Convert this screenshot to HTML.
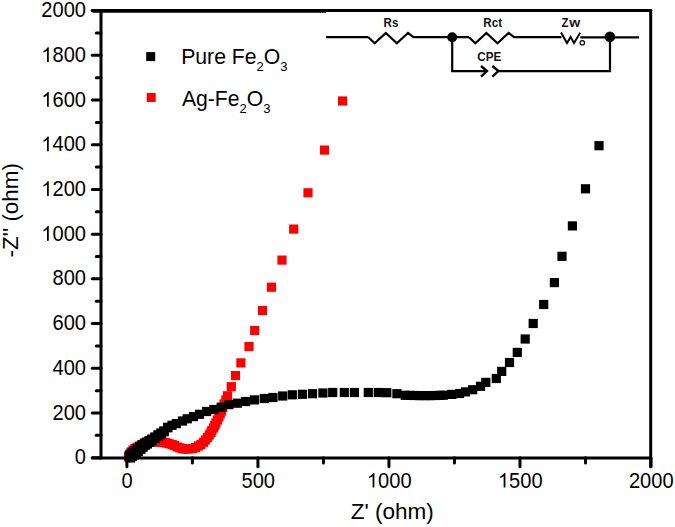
<!DOCTYPE html>
<html><head><meta charset="utf-8"><style>
html,body{margin:0;padding:0;background:#fff;}
svg{display:block;}
text{font-family:"Liberation Sans",sans-serif;}
</style></head><body>
<svg width="675" height="527" viewBox="0 0 675 527">
<rect width="675" height="527" fill="#fff"/>
<g fill="#ff0000"><rect x="123.9" y="452.4" width="9.2" height="9.2"/><rect x="124.9" y="449.9" width="9.2" height="9.2"/><rect x="126.4" y="447.4" width="9.2" height="9.2"/><rect x="128.4" y="445.4" width="9.2" height="9.2"/><rect x="130.4" y="443.9" width="9.2" height="9.2"/><rect x="132.4" y="442.6" width="9.2" height="9.2"/><rect x="134.9" y="441.4" width="9.2" height="9.2"/><rect x="137.4" y="440.2" width="9.2" height="9.2"/><rect x="139.9" y="439.2" width="9.2" height="9.2"/><rect x="142.4" y="438.4" width="9.2" height="9.2"/><rect x="144.9" y="437.8" width="9.2" height="9.2"/><rect x="147.4" y="437.4" width="9.2" height="9.2"/><rect x="150.4" y="437.2" width="9.2" height="9.2"/><rect x="153.4" y="437.3" width="9.2" height="9.2"/><rect x="155.9" y="437.4" width="9.2" height="9.2"/><rect x="158.1" y="437.5" width="9.2" height="9.2"/><rect x="160.4" y="438.0" width="9.2" height="9.2"/><rect x="162.1" y="438.4" width="9.2" height="9.2"/><rect x="164.4" y="439.1" width="9.2" height="9.2"/><rect x="167.4" y="439.9" width="9.2" height="9.2"/><rect x="169.9" y="440.8" width="9.2" height="9.2"/><rect x="172.7" y="442.4" width="9.2" height="9.2"/><rect x="175.4" y="443.3" width="9.2" height="9.2"/><rect x="178.1" y="444.2" width="9.2" height="9.2"/><rect x="180.9" y="444.4" width="9.2" height="9.2"/><rect x="183.9" y="444.4" width="9.2" height="9.2"/><rect x="187.9" y="444.0" width="9.2" height="9.2"/><rect x="190.9" y="443.0" width="9.2" height="9.2"/><rect x="193.9" y="441.4" width="9.2" height="9.2"/><rect x="196.4" y="439.9" width="9.2" height="9.2"/><rect x="198.9" y="437.7" width="9.2" height="9.2"/><rect x="200.9" y="435.4" width="9.2" height="9.2"/><rect x="202.9" y="432.9" width="9.2" height="9.2"/><rect x="204.7" y="430.4" width="9.2" height="9.2"/><rect x="206.4" y="427.9" width="9.2" height="9.2"/><rect x="207.2" y="426.1" width="9.2" height="9.2"/><rect x="208.9" y="423.4" width="9.2" height="9.2"/><rect x="210.2" y="420.9" width="9.2" height="9.2"/><rect x="211.3" y="418.4" width="9.2" height="9.2"/><rect x="212.8" y="415.4" width="9.2" height="9.2"/><rect x="214.3" y="412.4" width="9.2" height="9.2"/><rect x="215.6" y="409.4" width="9.2" height="9.2"/><rect x="216.9" y="406.4" width="9.2" height="9.2"/><rect x="218.2" y="402.9" width="9.2" height="9.2"/><rect x="219.4" y="399.4" width="9.2" height="9.2"/><rect x="221.2" y="395.4" width="9.2" height="9.2"/><rect x="222.9" y="391.2" width="9.2" height="9.2"/><rect x="226.7" y="382.1" width="9.2" height="9.2"/><rect x="230.9" y="371.0" width="9.2" height="9.2"/><rect x="236.3" y="358.3" width="9.2" height="9.2"/><rect x="244.4" y="341.9" width="9.2" height="9.2"/><rect x="250.1" y="325.9" width="9.2" height="9.2"/><rect x="257.9" y="305.9" width="9.2" height="9.2"/><rect x="266.9" y="282.6" width="9.2" height="9.2"/><rect x="277.4" y="255.5" width="9.2" height="9.2"/><rect x="289.1" y="224.5" width="9.2" height="9.2"/><rect x="303.4" y="188.2" width="9.2" height="9.2"/><rect x="319.9" y="145.5" width="9.2" height="9.2"/><rect x="338.0" y="96.4" width="9.2" height="9.2"/></g>
<g fill="#000"><rect x="125.2" y="452.1" width="9.2" height="9.2"/><rect x="127.2" y="450.6" width="9.2" height="9.2"/><rect x="129.2" y="448.9" width="9.2" height="9.2"/><rect x="131.2" y="447.3" width="9.2" height="9.2"/><rect x="133.2" y="445.6" width="9.2" height="9.2"/><rect x="135.7" y="443.4" width="9.2" height="9.2"/><rect x="137.9" y="441.3" width="9.2" height="9.2"/><rect x="140.2" y="439.3" width="9.2" height="9.2"/><rect x="142.2" y="438.1" width="9.2" height="9.2"/><rect x="144.7" y="436.4" width="9.2" height="9.2"/><rect x="147.2" y="434.7" width="9.2" height="9.2"/><rect x="150.2" y="432.4" width="9.2" height="9.2"/><rect x="153.3" y="430.2" width="9.2" height="9.2"/><rect x="156.2" y="428.4" width="9.2" height="9.2"/><rect x="159.2" y="426.3" width="9.2" height="9.2"/><rect x="163.0" y="422.7" width="9.2" height="9.2"/><rect x="167.4" y="420.7" width="9.2" height="9.2"/><rect x="171.7" y="419.0" width="9.2" height="9.2"/><rect x="177.9" y="416.4" width="9.2" height="9.2"/><rect x="182.7" y="414.2" width="9.2" height="9.2"/><rect x="188.9" y="412.0" width="9.2" height="9.2"/><rect x="194.9" y="409.7" width="9.2" height="9.2"/><rect x="202.1" y="406.9" width="9.2" height="9.2"/><rect x="209.2" y="404.9" width="9.2" height="9.2"/><rect x="216.6" y="402.6" width="9.2" height="9.2"/><rect x="224.4" y="400.0" width="9.2" height="9.2"/><rect x="232.7" y="398.6" width="9.2" height="9.2"/><rect x="241.0" y="396.9" width="9.2" height="9.2"/><rect x="249.9" y="395.3" width="9.2" height="9.2"/><rect x="259.7" y="393.9" width="9.2" height="9.2"/><rect x="268.4" y="392.9" width="9.2" height="9.2"/><rect x="278.1" y="391.4" width="9.2" height="9.2"/><rect x="287.7" y="390.2" width="9.2" height="9.2"/><rect x="297.8" y="389.7" width="9.2" height="9.2"/><rect x="307.9" y="389.1" width="9.2" height="9.2"/><rect x="318.3" y="388.4" width="9.2" height="9.2"/><rect x="328.1" y="387.9" width="9.2" height="9.2"/><rect x="339.7" y="387.9" width="9.2" height="9.2"/><rect x="349.8" y="387.9" width="9.2" height="9.2"/><rect x="363.7" y="387.9" width="9.2" height="9.2"/><rect x="373.7" y="387.9" width="9.2" height="9.2"/><rect x="382.2" y="388.1" width="9.2" height="9.2"/><rect x="392.3" y="389.1" width="9.2" height="9.2"/><rect x="400.7" y="390.7" width="9.2" height="9.2"/><rect x="405.4" y="390.8" width="9.2" height="9.2"/><rect x="410.4" y="390.9" width="9.2" height="9.2"/><rect x="415.4" y="391.0" width="9.2" height="9.2"/><rect x="420.4" y="391.0" width="9.2" height="9.2"/><rect x="425.4" y="391.0" width="9.2" height="9.2"/><rect x="430.4" y="390.9" width="9.2" height="9.2"/><rect x="435.4" y="390.8" width="9.2" height="9.2"/><rect x="438.9" y="390.6" width="9.2" height="9.2"/><rect x="447.2" y="389.8" width="9.2" height="9.2"/><rect x="454.9" y="388.9" width="9.2" height="9.2"/><rect x="460.9" y="387.3" width="9.2" height="9.2"/><rect x="468.1" y="385.1" width="9.2" height="9.2"/><rect x="475.9" y="381.7" width="9.2" height="9.2"/><rect x="481.2" y="377.8" width="9.2" height="9.2"/><rect x="491.7" y="373.9" width="9.2" height="9.2"/><rect x="497.1" y="366.8" width="9.2" height="9.2"/><rect x="504.9" y="357.9" width="9.2" height="9.2"/><rect x="512.7" y="347.8" width="9.2" height="9.2"/><rect x="520.6" y="334.4" width="9.2" height="9.2"/><rect x="528.6" y="318.9" width="9.2" height="9.2"/><rect x="539.1" y="299.9" width="9.2" height="9.2"/><rect x="549.8" y="278.0" width="9.2" height="9.2"/><rect x="557.4" y="251.7" width="9.2" height="9.2"/><rect x="567.8" y="221.3" width="9.2" height="9.2"/><rect x="580.9" y="184.2" width="9.2" height="9.2"/><rect x="594.4" y="141.1" width="9.2" height="9.2"/><rect x="125.8" y="453.4" width="9.2" height="9.2"/><rect x="124.6" y="450.8" width="9.2" height="9.2"/><rect x="127.8" y="451.9" width="9.2" height="9.2"/><rect x="126.6" y="449.3" width="9.2" height="9.2"/><rect x="129.8" y="450.2" width="9.2" height="9.2"/><rect x="128.6" y="447.6" width="9.2" height="9.2"/><rect x="131.8" y="448.6" width="9.2" height="9.2"/><rect x="130.6" y="446.0" width="9.2" height="9.2"/><rect x="133.8" y="446.9" width="9.2" height="9.2"/><rect x="132.6" y="444.3" width="9.2" height="9.2"/><rect x="136.3" y="444.7" width="9.2" height="9.2"/><rect x="135.1" y="442.1" width="9.2" height="9.2"/><rect x="138.5" y="442.6" width="9.2" height="9.2"/><rect x="137.4" y="440.3" width="9.2" height="9.2"/><rect x="140.8" y="440.6" width="9.2" height="9.2"/><rect x="139.8" y="438.5" width="9.2" height="9.2"/><rect x="142.8" y="439.4" width="9.2" height="9.2"/><rect x="141.9" y="437.5" width="9.2" height="9.2"/><rect x="145.3" y="437.7" width="9.2" height="9.2"/><rect x="144.6" y="436.1" width="9.2" height="9.2"/><rect x="147.8" y="436.0" width="9.2" height="9.2"/><rect x="147.2" y="434.7" width="9.2" height="9.2"/><rect x="150.8" y="433.7" width="9.2" height="9.2"/><rect x="153.9" y="431.5" width="9.2" height="9.2"/><rect x="156.8" y="429.6" width="9.2" height="9.2"/><rect x="159.6" y="427.2" width="9.2" height="9.2"/><rect x="163.2" y="423.2" width="9.2" height="9.2"/></g>
<g stroke="#000" stroke-width="3" fill="none" stroke-linecap="round">
 <line x1="101" y1="10.6" x2="101" y2="457.9"/>
 <line x1="92.3" y1="457.9" x2="650.7" y2="457.9"/>
 <line x1="650.7" y1="10.6" x2="650.7" y2="466.8"/>
 <line x1="92.3" y1="10.6" x2="650.7" y2="10.6"/>
 <line x1="92.3" y1="11.2" x2="326" y2="11.2" stroke-linecap="butt"/>
 <line x1="92.3" y1="457.70" x2="101" y2="457.70"/><line x1="96.3" y1="435.34" x2="101" y2="435.34"/><line x1="92.3" y1="412.99" x2="101" y2="412.99"/><line x1="96.3" y1="390.63" x2="101" y2="390.63"/><line x1="92.3" y1="368.28" x2="101" y2="368.28"/><line x1="96.3" y1="345.93" x2="101" y2="345.93"/><line x1="92.3" y1="323.57" x2="101" y2="323.57"/><line x1="96.3" y1="301.22" x2="101" y2="301.22"/><line x1="92.3" y1="278.86" x2="101" y2="278.86"/><line x1="96.3" y1="256.50" x2="101" y2="256.50"/><line x1="92.3" y1="234.15" x2="101" y2="234.15"/><line x1="96.3" y1="211.80" x2="101" y2="211.80"/><line x1="92.3" y1="189.44" x2="101" y2="189.44"/><line x1="96.3" y1="167.09" x2="101" y2="167.09"/><line x1="92.3" y1="144.73" x2="101" y2="144.73"/><line x1="96.3" y1="122.38" x2="101" y2="122.38"/><line x1="92.3" y1="100.02" x2="101" y2="100.02"/><line x1="96.3" y1="77.67" x2="101" y2="77.67"/><line x1="92.3" y1="55.31" x2="101" y2="55.31"/><line x1="96.3" y1="32.96" x2="101" y2="32.96"/><line x1="92.3" y1="10.60" x2="101" y2="10.60"/><line x1="126.90" y1="457.7" x2="126.90" y2="466.8"/><line x1="192.41" y1="457.7" x2="192.41" y2="463"/><line x1="257.93" y1="457.7" x2="257.93" y2="466.8"/><line x1="323.44" y1="457.7" x2="323.44" y2="463"/><line x1="388.95" y1="457.7" x2="388.95" y2="466.8"/><line x1="454.46" y1="457.7" x2="454.46" y2="463"/><line x1="519.98" y1="457.7" x2="519.98" y2="466.8"/><line x1="585.49" y1="457.7" x2="585.49" y2="463"/><line x1="651.00" y1="457.7" x2="651.00" y2="466.8"/>
</g>

<g stroke="#000" stroke-width="2.2" fill="none" stroke-linejoin="miter">
 <path d="M326,37.2 H368.4 M368.4,37.2 L374.7,43.2 L385.8,32.9 L396.9,43.2 L408.0,32.9 L413.4,37.2 H469 M469.0,37.2 L475.3,43.2 L486.4,32.9 L497.5,43.2 L508.6,32.9 L514.0,37.2 H561.5"/>
 <path d="M561,32.5 L567,43 L570.6,37 L574,43 L580.2,32.7" stroke-width="1.9"/>
 <path d="M580.3,37.4 H639"/>
 <path d="M452.2,37.2 V71.1 H487"/>
 <path d="M481,66 L487,71.1 L481,76.6" stroke-width="2.4"/>
 <path d="M492.4,66 L498.4,71.1 L492.4,76.6" stroke-width="2.4"/>
 <path d="M498.6,71.1 H610 V37.2"/>
 <circle cx="582.3" cy="42.8" r="2.2" stroke-width="1.2"/>
</g>
<circle cx="452.2" cy="37.2" r="5" fill="#000"/>
<circle cx="609.9" cy="36.8" r="5.3" fill="#000"/>
<g font-family="Liberation Sans, sans-serif" font-weight="bold" font-size="11.6" fill="#111">
 <text transform="translate(383.5,27.3) scale(1,1.15)">Rs</text>
 <text transform="translate(483.3,27.4) scale(1,1.15)">Rct</text>
 <text transform="translate(561.6,27.1) scale(1,1.15)">Z</text>
 <text transform="translate(569.2,27.1) scale(1.22,1.15)">w</text>
 <text transform="translate(477.3,61.1) scale(1,1.15)">CPE</text>
</g>

<g font-size="20.1" fill="#000">
<text transform="translate(0,464.31) scale(1,1.065)" x="74.82" y="0">0</text><text transform="translate(0,419.60) scale(1,1.065)" x="52.46 63.64 74.82" y="0">200</text><text transform="translate(0,374.89) scale(1,1.065)" x="52.46 63.64 74.82" y="0">400</text><text transform="translate(0,330.18) scale(1,1.065)" x="52.46 63.64 74.82" y="0">600</text><text transform="translate(0,285.47) scale(1,1.065)" x="52.46 63.64 74.82" y="0">800</text><text transform="translate(0,240.76) scale(1,1.065)" x="52.46 63.64 74.82" y="0">000</text><path transform="translate(41.29,240.76) scale(0.00981,-0.01045)" d="M763,0 L583,0 L583,1098 C540,1059 483,1019 413,979 C343,940 280,910 224,890 L224,1057 C325,1102 412,1157 487,1221 C562,1285 615,1349 646,1409 L763,1409 Z"/><text transform="translate(0,196.05) scale(1,1.065)" x="52.46 63.64 74.82" y="0">200</text><path transform="translate(41.29,196.05) scale(0.00981,-0.01045)" d="M763,0 L583,0 L583,1098 C540,1059 483,1019 413,979 C343,940 280,910 224,890 L224,1057 C325,1102 412,1157 487,1221 C562,1285 615,1349 646,1409 L763,1409 Z"/><text transform="translate(0,151.34) scale(1,1.065)" x="52.46 63.64 74.82" y="0">400</text><path transform="translate(41.29,151.34) scale(0.00981,-0.01045)" d="M763,0 L583,0 L583,1098 C540,1059 483,1019 413,979 C343,940 280,910 224,890 L224,1057 C325,1102 412,1157 487,1221 C562,1285 615,1349 646,1409 L763,1409 Z"/><text transform="translate(0,106.63) scale(1,1.065)" x="52.46 63.64 74.82" y="0">600</text><path transform="translate(41.29,106.63) scale(0.00981,-0.01045)" d="M763,0 L583,0 L583,1098 C540,1059 483,1019 413,979 C343,940 280,910 224,890 L224,1057 C325,1102 412,1157 487,1221 C562,1285 615,1349 646,1409 L763,1409 Z"/><text transform="translate(0,61.92) scale(1,1.065)" x="52.46 63.64 74.82" y="0">800</text><path transform="translate(41.29,61.92) scale(0.00981,-0.01045)" d="M763,0 L583,0 L583,1098 C540,1059 483,1019 413,979 C343,940 280,910 224,890 L224,1057 C325,1102 412,1157 487,1221 C562,1285 615,1349 646,1409 L763,1409 Z"/><text transform="translate(0,17.21) scale(1,1.065)" x="41.29 52.46 63.64 74.82" y="0">2000</text>
<text transform="translate(0,487.60) scale(1,1.065)" x="121.61" y="0">0</text><text transform="translate(0,487.60) scale(1,1.065)" x="241.46 252.64 263.81" y="0">500</text><text transform="translate(0,487.60) scale(1,1.065)" x="378.07 389.25 400.43" y="0">000</text><path transform="translate(366.89,487.60) scale(0.00981,-0.01045)" d="M763,0 L583,0 L583,1098 C540,1059 483,1019 413,979 C343,940 280,910 224,890 L224,1057 C325,1102 412,1157 487,1221 C562,1285 615,1349 646,1409 L763,1409 Z"/><text transform="translate(0,487.60) scale(1,1.065)" x="509.10 520.27 531.45" y="0">500</text><path transform="translate(497.92,487.60) scale(0.00981,-0.01045)" d="M763,0 L583,0 L583,1098 C540,1059 483,1019 413,979 C343,940 280,910 224,890 L224,1057 C325,1102 412,1157 487,1221 C562,1285 615,1349 646,1409 L763,1409 Z"/><text transform="translate(0,487.60) scale(1,1.065)" x="628.94 640.12 651.30 662.48" y="0">2000</text>
</g>
<text x="392.2" y="519.4" font-size="22.5" text-anchor="middle">Z' (ohm)</text>
<text transform="translate(18.4,210.3) rotate(-90) scale(1.04,1)" font-size="21.6" text-anchor="middle">-Z'' (ohm)</text>
<rect x="146.2" y="52.1" width="9" height="9" fill="#000"/>
<rect x="146.7" y="93" width="9" height="9" fill="#ff0000"/>
<g font-size="21.2" fill="#000">
<text transform="translate(181.2,64) scale(1,1.035)">Pure Fe<tspan font-size="13" dy="6.8">2</tspan><tspan dy="-6.8">O</tspan><tspan font-size="13" dy="6.8">3</tspan></text>
<text transform="translate(181.9,105.5) scale(1,1.035)">Ag-Fe<tspan font-size="13" dy="6.8">2</tspan><tspan dy="-6.8">O</tspan><tspan font-size="13" dy="6.8">3</tspan></text>
</g>
</svg>
</body></html>
